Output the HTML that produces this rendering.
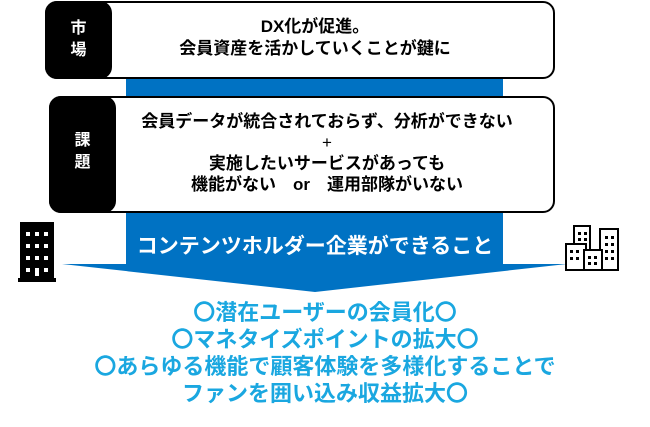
<!DOCTYPE html>
<html><head><meta charset="utf-8"><style>
body{margin:0;width:650px;height:427px;background:#fff;position:relative;overflow:hidden;font-family:"Liberation Sans","Noto Sans CJK JP",sans-serif;font-weight:bold}
.abs{position:absolute}
.box{position:absolute;border:2px solid #000;border-radius:12px;background:#fff;box-sizing:border-box}
.tab{position:absolute;background:#000;border-radius:12px;color:#fff;font-size:16px;text-align:center}
.t{position:absolute;left:0;width:650px;text-align:center;white-space:nowrap}
.bl{color:#1aa7e0;font-size:22px;letter-spacing:0px}
</style></head><body>
<div class="abs" style="left:126px;top:70px;width:377px;height:194px;background:#0072c3"></div>
<svg class="abs" style="left:0;top:0" width="650" height="427"><polygon points="62,264 567,264 315,292" fill="#0072c3"/></svg>
<div class="box" style="left:45px;top:1px;width:510px;height:78px"></div>
<div class="tab" style="left:45px;top:1px;width:67px;height:78px"><div style="position:absolute;top:17px;width:100%;line-height:22px">市<br>場</div></div>
<div class="t" style="left:-10px;top:16px;font-size:17px;line-height:22px;color:#000">DX化が促進。<br>会員資産を活かしていくことが鍵に</div>
<div class="box" style="left:49px;top:96px;width:506px;height:117px"></div>
<div class="tab" style="left:49px;top:96px;width:67px;height:117px"><div style="position:absolute;top:34px;width:100%;line-height:22px">課<br>題</div></div>
<div class="t" style="left:2px;top:111px;font-size:17px;line-height:21px;color:#000">会員データが統合されておらず、分析ができない<br><span style="font-weight:normal">+</span><br>実施したいサービスがあっても<br>機能がない　or　運用部隊がいない</div>
<div class="t" style="left:-10px;top:230px;font-size:21px;color:#fff">コンテンツホルダー企業ができること</div>
<svg class="abs" style="left:16px;top:220px" width="44" height="64"><rect x="4" y="2" width="34" height="60" fill="#000"/><rect x="2" y="58" width="38" height="4" fill="#000"/>
<g fill="#fff"><rect x="10" y="12" width="4" height="4"/><rect x="19" y="12" width="4" height="4"/><rect x="28" y="12" width="4" height="4"/><rect x="10" y="24" width="4" height="4"/><rect x="19" y="24" width="4" height="4"/><rect x="28" y="24" width="4" height="4"/><rect x="10" y="36" width="4" height="4"/><rect x="19" y="36" width="4" height="4"/><rect x="28" y="36" width="4" height="4"/><rect x="10" y="48" width="4" height="4"/><rect x="19" y="48" width="4" height="8"/><rect x="28" y="48" width="4" height="4"/></g></svg>
<svg class="abs" style="left:564px;top:224px" width="58" height="48" fill="#fff" stroke="#000" stroke-width="2"><rect x="10" y="2" width="16" height="44"/><rect x="36" y="5" width="18" height="41"/><rect x="2" y="20" width="20" height="26"/><rect x="20" y="26" width="18" height="20"/>
<g fill="#000" stroke="none"><rect x="14" y="8" width="3" height="3"/><rect x="20" y="8" width="3" height="3"/><rect x="14" y="14" width="3" height="3"/><rect x="20" y="14" width="3" height="3"/><rect x="41" y="12" width="3" height="3"/><rect x="47" y="12" width="3" height="3"/><rect x="41" y="19" width="3" height="3"/><rect x="47" y="19" width="3" height="3"/><rect x="41" y="26" width="3" height="3"/><rect x="47" y="26" width="3" height="3"/><rect x="41" y="33" width="3" height="3"/><rect x="47" y="33" width="3" height="3"/><rect x="6" y="26" width="3" height="3"/><rect x="12" y="26" width="3" height="3"/><rect x="6" y="33" width="3" height="3"/><rect x="12" y="33" width="3" height="3"/><rect x="24" y="32" width="3" height="3"/><rect x="30" y="32" width="3" height="3"/><rect x="24" y="38" width="3" height="3"/><rect x="30" y="38" width="3" height="3"/></g></svg>
<div class="t bl" style="left:0;top:299px;line-height:27px">〇潜在ユーザーの会員化〇<br>〇マネタイズポイントの拡大〇<br>〇あらゆる機能で顧客体験を多様化することで<br>ファンを囲い込み収益拡大〇</div>
</body></html>
